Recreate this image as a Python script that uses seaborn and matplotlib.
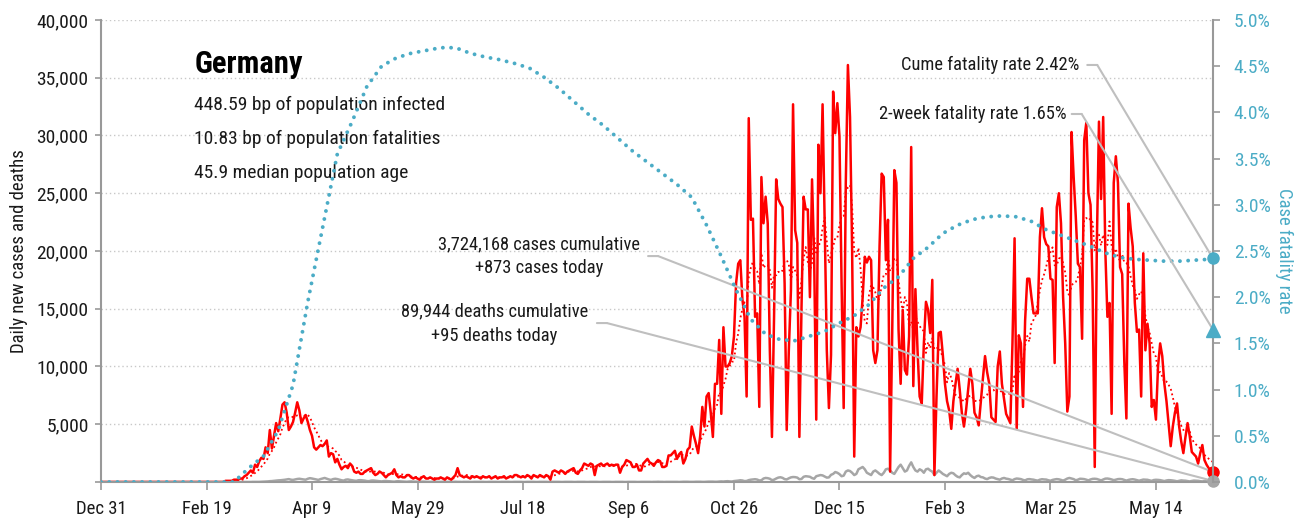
import matplotlib
matplotlib.use("Agg")
import matplotlib.pyplot as plt
from matplotlib import font_manager
from matplotlib.ticker import FuncFormatter, MultipleLocator
import seaborn as sns
import numpy as np
import pandas as pd

# ---- data ----
start_date = "2019-12-31"
country = "Germany"
info_lines = ["448.59 bp of population infected",
              "10.83 bp of population fatalities",
              "45.9 median population age"]
total_cases = "3,724,168"
total_deaths = "89,944"
latest_cases = 873
latest_deaths = 95
cume_cfr = 2.42
two_week_cfr = 1.65

# daily new cases, in hundreds (one row = 10 days)
cases_hundreds = [0] * 50 + [
    0, 0, 0, 0, 0, 0, 0, 0, 0, 1,
    1, 1, 1, 2, 2, 2, 3, 3, 5, 6,
    8, 10, 8, 15, 13, 18, 21, 20, 30, 25,
    45, 29, 40, 51, 44, 55, 67, 69, 60, 45,
    48, 52, 60, 69, 62, 51, 55, 58, 52, 45,
    40, 30, 28, 30, 32, 31, 33, 36, 22, 25,
    24, 17, 20, 15, 11, 13, 14, 12, 16, 14,
    9, 8, 9, 7, 7, 9, 10, 11, 12, 8,
    6, 7, 9, 8, 6, 4, 6, 7, 8, 11,
    6, 4, 5, 4, 4, 6, 6, 4, 3, 4,
    3, 2, 4, 5, 3, 3, 4, 3, 2, 3,
    3, 4, 3, 2, 4, 3, 2, 4, 6, 12,
    6, 5, 4, 5, 4, 3, 5, 4, 5, 4,
    3, 5, 4, 4, 5, 3, 4, 5, 3, 4,
    4, 5, 3, 4, 5, 4, 6, 6, 5, 4,
    5, 4, 6, 5, 3, 6, 5, 4, 6, 5,
    4, 6, 5, 2, 9, 10, 9, 8, 10, 9,
    7, 9, 10, 11, 12, 8, 7, 10, 12, 16,
    15, 14, 16, 15, 6, 14, 15, 16, 14, 15,
    16, 14, 15, 14, 15, 15, 8, 13, 15, 19,
    18, 17, 13, 13, 15, 10, 10, 16, 18, 20,
    17, 16, 14, 17, 19, 18, 13, 13, 14, 23,
    23, 25, 27, 20, 24, 26, 16, 20, 28, 30,
    48, 40, 33, 25, 40, 65, 48, 74, 77, 60,
    39, 85, 85, 123, 59, 134, 100, 100, 103, 109,
    126, 172, 189, 192, 158, 143, 74, 315, 227, 228,
    143, 146, 65, 264, 224, 247, 224, 114, 39, 143,
    262, 245, 241, 238, 172, 45, 114, 166, 327, 218,
    207, 39, 150, 247, 236, 236, 160, 262, 195, 54,
    292, 250, 327, 224, 114, 64, 110, 338, 302, 328,
    299, 172, 64, 259, 361, 316, 201, 22, 134, 126,
    134, 160, 195, 190, 195, 192, 114, 103, 114, 204,
    267, 264, 192, 227, 9, 129, 270, 259, 132, 85,
    149, 97, 93, 126, 290, 83, 167, 114, 74, 68,
    120, 156, 149, 129, 175, 6, 74, 129, 130, 110,
    85, 70, 62, 46, 70, 85, 98, 80, 60, 48,
    62, 80, 98, 85, 60, 56, 49, 70, 90, 109,
    95, 85, 56, 54, 52, 100, 113, 85, 72, 59,
    55, 51, 120, 211, 46, 127, 120, 65, 140, 176,
    176, 160, 146, 146, 146, 212, 237, 212, 206, 204,
    176, 175, 103, 238, 250, 224, 160, 120, 61, 74,
    303, 264, 230, 189, 186, 124, 296, 311, 250, 240,
    166, 13, 207, 312, 245, 316, 201, 143, 155, 59,
    259, 282, 259, 186, 180, 105, 55, 241, 220, 204,
    155, 130, 132, 74, 198, 114, 137, 120, 65, 71,
    54, 100, 120, 109, 85, 70, 51, 31, 48, 60,
    68, 48, 35, 25, 39, 51, 40, 26, 24, 22,
    16, 25, 32, 19, 15, 12, 10, 8.73,
]

# daily new deaths, in tens
deaths_tens = [0] * 70 + [
    0, 0, 1, 1, 1, 1, 2, 3, 4, 5,
    7, 8, 10, 12, 14, 15, 17, 19, 22, 25,
    20, 18, 22, 26, 28, 25, 22, 20, 28, 33,
    30, 26, 22, 18, 25, 30, 35, 28, 22, 18,
    25, 28, 25, 20, 15, 12, 20, 22, 18, 15,
    12, 10, 15, 16, 14, 12, 8, 7, 12, 13,
    11, 9, 7, 5, 8, 9, 7, 6, 4, 3,
    6, 7, 5, 4, 3, 2, 4, 5, 3, 3,
    2, 2, 3, 3, 2, 1, 1, 2, 2, 2,
    1, 1, 2, 1, 1, 1, 1, 1, 2, 1,
    1, 0, 1, 1, 1, 0, 0, 1, 1, 1,
    1, 1, 0, 0, 1, 1, 1, 1, 0, 0,
    1, 1, 1, 1, 0, 0, 1, 1, 1, 1,
    0, 0, 1, 1, 1, 1, 0, 0, 1, 1,
    1, 1, 0, 0, 1, 1, 1, 1, 0, 0,
    1, 1, 1, 1, 0, 0, 1, 1, 1, 1,
    0, 0, 1, 1, 1, 1, 0, 0, 1, 1,
    1, 1, 0, 0, 1, 1, 1, 1, 0, 0,
    1, 1, 1, 1, 0, 0, 1, 1, 1, 1,
    1, 0, 1, 1, 2, 1, 1, 0, 1, 1,
    1, 1, 1, 1, 0, 1, 2, 2, 2, 1,
    1, 1, 2, 2, 2, 1, 1, 2, 3, 3,
    3, 2, 2, 4, 5, 4, 6, 7, 5, 4,
    8, 10, 12, 15, 13, 8, 9, 16, 20, 22,
    24, 21, 13, 15, 30, 35, 33, 28, 16, 20,
    30, 38, 41, 36, 25, 22, 32, 40, 43, 42,
    38, 24, 26, 45, 50, 48, 45, 34, 28, 50,
    55, 60, 57, 48, 38, 40, 62, 70, 86, 80,
    68, 50, 55, 90, 100, 95, 80, 60, 70, 110,
    120, 130, 110, 80, 70, 60, 90, 100, 86, 70,
    60, 80, 110, 115, 100, 80, 70, 100, 130, 150,
    120, 90, 100, 140, 170, 130, 100, 90, 110, 100,
    80, 110, 115, 100, 90, 60, 80, 100, 86, 70,
    60, 50, 70, 80, 75, 58, 45, 40, 60, 75,
    70, 80, 60, 45, 35, 50, 55, 43, 40, 30,
    25, 35, 40, 38, 30, 25, 20, 30, 35, 29,
    26, 20, 15, 25, 30, 28, 25, 18, 14, 23,
    25, 22, 20, 15, 12, 20, 24, 22, 21, 15,
    11, 18, 22, 25, 23, 18, 12, 20, 30, 35,
    30, 25, 15, 20, 28, 27, 25, 20, 14, 22,
    27, 28, 26, 20, 14, 21, 29, 30, 27, 22,
    16, 20, 25, 26, 24, 18, 12, 18, 22, 24,
    21, 16, 11, 16, 21, 20, 19, 14, 10, 17,
    19, 18, 16, 12, 8, 13, 16, 15, 13, 10,
    6, 10, 14, 12, 11, 8, 5, 9, 12, 11,
    10, 7, 5, 8, 11, 10, 9, 9.5,
]

# cumulative case fatality rate (%), one value every 7 days from start
cfr_weekly = [
    0, 0, 0, 0, 0, 0, 0, 0, 0, 0,
    0.15, 0.28, 0.56, 1.05, 1.95, 2.75, 3.55, 3.9, 4.28, 4.5,
    4.59, 4.64, 4.67, 4.7, 4.7, 4.64, 4.6, 4.57, 4.53, 4.48,
    4.38, 4.26, 4.12, 3.98, 3.86, 3.72, 3.58, 3.46, 3.34, 3.22,
    3.08, 2.78, 2.44, 2.08, 1.76, 1.6, 1.54, 1.53, 1.58, 1.63,
    1.72, 1.8, 1.92, 2.1, 2.22, 2.42, 2.54, 2.69, 2.78, 2.84,
    2.87, 2.88, 2.87, 2.82, 2.73, 2.67, 2.61, 2.55, 2.48, 2.43,
    2.41, 2.4, 2.39, 2.39, 2.4, 2.41,
]

# ---- styling ----
RED = "#ff0000"
GRAY = "#a6a6a6"
TEAL = "#4bacc6"
LEADER = "#bfbfbf"
SPINE = "#999999"
TXT = "#1a1a1a"

sns.set_style("white")
installed = {f.name for f in font_manager.fontManager.ttflist}
narrow_fonts = ["Roboto Condensed", "Archivo Narrow", "PT Sans Narrow", "Liberation Sans Narrow",
                "IBM Plex Sans Condensed", "Fira Sans Condensed", "Encode Sans Condensed",
                "Asap Condensed", "Barlow Condensed", "Open Sans Condensed"]
main_font = next((f for f in narrow_fonts if f in installed), "Liberation Sans")
plt.rcParams["font.family"] = [main_font, "DejaVu Sans"]

cases = pd.Series(np.array(cases_hundreds, dtype=float) * 100,
                  index=pd.date_range(start_date, periods=len(cases_hundreds)))
deaths = pd.Series(np.array(deaths_tens, dtype=float) * 10,
                   index=pd.date_range(start_date, periods=len(deaths_tens)))
cases_df = pd.DataFrame({"date": cases.index, "cases": cases.values,
                         "avg": cases.rolling(7, min_periods=1).mean().values})
deaths_df = pd.DataFrame({"date": deaths.index, "deaths": deaths.values})
end_date = cases.index[-1]
cfr_df = pd.DataFrame({
    "date": list(pd.date_range(start_date, periods=len(cfr_weekly), freq="7D")) + [end_date],
    "cfr": cfr_weekly + [cume_cfr],
})

fig, ax = plt.subplots(figsize=(13.07, 5.23), dpi=100)
fig.subplots_adjust(left=0.0773, right=0.928, bottom=0.0784, top=0.9618)
ax2 = ax.twinx()

sns.lineplot(data=deaths_df, x="date", y="deaths", ax=ax, color=GRAY, lw=1.8)
sns.lineplot(data=cases_df, x="date", y="avg", ax=ax, color=RED, lw=1.3,
             linestyle=(0, (1, 1.6)))
sns.lineplot(data=cases_df, x="date", y="cases", ax=ax, color=RED, lw=1.8)
sns.lineplot(data=cfr_df, x="date", y="cfr", ax=ax2, color=TEAL, lw=2.8,
             linestyle=(0, (0.01, 2.1)), dash_capstyle="round")

# end-of-series markers
ax.plot([end_date], [latest_cases], "o", color=RED, ms=8, clip_on=False, zorder=6)
ax.plot([end_date], [latest_deaths], "o", color=GRAY, ms=8, clip_on=False, zorder=6)
ax2.plot([end_date], [cume_cfr], "o", color=TEAL, ms=8, clip_on=False, zorder=6)
ax2.plot([end_date], [two_week_cfr], "^", color=TEAL, ms=10, clip_on=False, zorder=6)

# axes
ax.set_xlim(cases.index[0], end_date)
ax.set_ylim(0, 40000)
ax2.set_ylim(0, 5)
ax.yaxis.set_major_locator(MultipleLocator(5000))
ax.yaxis.set_major_formatter(FuncFormatter(lambda v, p: "" if v == 0 else f"{v:,.0f}"))
ax2.yaxis.set_major_locator(MultipleLocator(0.5))
ax2.yaxis.set_major_formatter(FuncFormatter(lambda v, p: f"{v:.1f}%"))
xticks = pd.date_range(start_date, end_date, freq="50D")
ax.set_xticks(xticks)
ax.set_xticklabels([f"{t:%b} {t.day}" for t in xticks])

ax.grid(axis="y", color="#c8c8c8", linestyle=(0, (1, 2)), lw=1)
ax.grid(axis="x", visible=False)
ax2.grid(False)
for a in (ax, ax2):
    a.spines["top"].set_visible(False)
ax2.spines["left"].set_visible(False)
ax2.spines["bottom"].set_visible(False)
for s in ("left", "bottom"):
    ax.spines[s].set_color(SPINE)
    ax.spines[s].set_linewidth(1.5)
ax.spines["right"].set_visible(False)
ax2.spines["right"].set_color(SPINE)
ax2.spines["right"].set_linewidth(1.5)

ax.tick_params(axis="y", which="major", left=True, length=4, width=1.2, color=SPINE,
               pad=5, labelsize=14, labelcolor=TXT)
ax.tick_params(axis="x", which="major", bottom=True, length=6, width=1.2, color=SPINE,
               pad=7, labelsize=13.5, labelcolor=TXT)
ax2.tick_params(axis="y", right=True, length=5, width=1.2, color=SPINE,
                pad=10, labelsize=14, labelcolor=TEAL)

ax.set_xlabel("")
ax.set_ylabel("Daily new cases and deaths", fontsize=13.5, color=TXT, labelpad=6)
ax2.set_ylabel("Case fatality rate", fontsize=13.5, color=TEAL, rotation=270, labelpad=16)

# title block
ax.text(0.084, 0.905, country, transform=ax.transAxes, fontsize=22, color="black",
        va="center", ha="left", fontweight="semibold")
for i, line in enumerate(info_lines):
    ax.text(0.084, 0.817 - i * 0.0745, line, transform=ax.transAxes, fontsize=14,
            color=TXT, va="center", ha="left")


def leader(text, tx, ty, stub, target, axis, ha="right"):
    axis.text(tx, ty, text, transform=ax.transAxes, fontsize=13.3, color=TXT,
              va="center", ha=ha, multialignment="center", linespacing=1.45)
    ax.annotate("", xy=(stub[1], stub[2]), xycoords="axes fraction",
                xytext=(stub[0], stub[2]), textcoords="axes fraction",
                arrowprops=dict(arrowstyle="-", color=LEADER, lw=1.5, shrinkA=0, shrinkB=0))
    axis.annotate("", xy=target, xycoords="data",
                  xytext=(stub[1], stub[2]), textcoords="axes fraction",
                  arrowprops=dict(arrowstyle="-", color=LEADER, lw=1.5, shrinkA=0, shrinkB=0),
                  zorder=5)


leader(f"Cume fatality rate {cume_cfr:.2f}%", 0.880, 0.9026, (0.887, 0.896, 0.9026),
       (end_date, cume_cfr), ax2)
leader(f"2-week fatality rate {two_week_cfr:.2f}%", 0.868, 0.7965, (0.873, 0.882, 0.7965),
       (end_date, two_week_cfr), ax2)
leader(f"{total_cases} cases cumulative\n+{latest_cases:,} cases today", 0.394, 0.489,
       (0.492, 0.501, 0.489), (end_date, latest_cases), ax, ha="center")
leader(f"{total_deaths} deaths cumulative\n+{latest_deaths:,} deaths today", 0.354, 0.342,
       (0.446, 0.455, 0.344), (end_date, latest_deaths), ax, ha="center")

fig.savefig("out.png", dpi=100)
